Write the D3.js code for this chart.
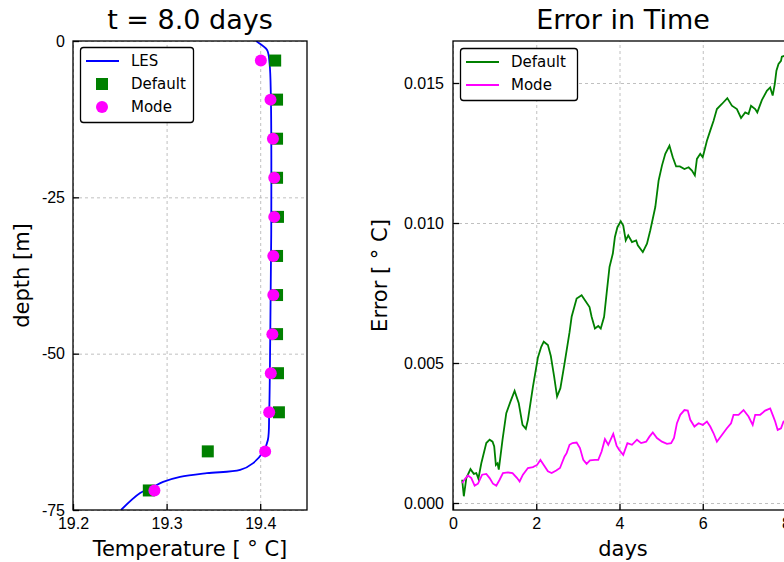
<!DOCTYPE html>
<html>
<head>
<meta charset="utf-8">
<script src="https://cdn.jsdelivr.net/npm/d3@7"></script>
<style>
  body { margin: 0; background: #fff; }
  svg { font-family: "DejaVu Sans", sans-serif; display: block; }
  .grid line { stroke: #b0b0b0; stroke-dasharray: 3,3; stroke-width: 0.8; }
  .grid path { display: none; }
  .ax path, .ax line { stroke: #000; stroke-width: 1.3; }
  .ax text { font-size: 16px; fill: #000; }
</style>
</head>
<body>
<div id="chart"></div>
<script>
// profile at t = 8.0 days
var lesTemp  = [19.3957, 19.3965, 19.4072, 19.4100, 19.4114, 19.4118, 19.4107, 19.4096, 19.4082, 19.4032, 19.3925, 19.3786, 19.3430, 19.3144, 19.2963, 19.2856, 19.2717, 19.2513];
var lesDepth = [0, -0.1, -1.4, -3.6, -8.9, -30.2, -47.8, -59.5, -63.8, -65.7, -67.5, -68.6, -69.1, -69.7, -70.5, -71.3, -72.3, -75];
var levelDepth  = [-3.125, -9.375, -15.625, -21.875, -28.125, -34.375, -40.625, -46.875, -53.125, -59.375, -65.625, -71.875];
var defaultTemp = [19.416, 19.418, 19.418, 19.418, 19.419, 19.418, 19.418, 19.418, 19.419, 19.420, 19.344, 19.281];
var modeTemp    = [19.4007, 19.411, 19.4136, 19.415, 19.415, 19.414, 19.414, 19.413, 19.4113, 19.4096, 19.4053, 19.287];
var tempTicks  = [19.2, 19.3, 19.4];
var depthTicks = [0, -25, -50, -75];

// error in time (values in units of 1e-3 degC)
var defaultDays = [0.22,0.26,0.32,0.42,0.50,0.56,0.61,0.68,0.80,0.88,0.95,0.99,1.03,1.07,1.10,1.19,1.28,1.38,1.48,1.58,1.67,1.75,1.80,1.92,2.04,2.12,2.18,2.28,2.35,2.43,2.50,2.58,2.68,2.80,2.85,2.97,3.09,3.17,3.28,3.33,3.41,3.49,3.55,3.63,3.69,3.76,3.84,3.89,3.95,4.03,4.09,4.15,4.21,4.30,4.40,4.44,4.56,4.66,4.74,4.86,4.94,5.02,5.10,5.20,5.28,5.36,5.45,5.56,5.66,5.74,5.81,5.86,5.94,6.00,6.10,6.18,6.26,6.34,6.46,6.59,6.70,6.82,6.92,7.02,7.10,7.16,7.26,7.31,7.42,7.54,7.62,7.68,7.73,7.77,7.82,7.88,7.90,7.96,8.05];
var defaultErr  = [0.83,0.24,0.89,1.21,1.04,1.07,0.87,1.42,2.14,2.26,2.19,2.02,1.36,1.42,1.19,2.26,3.21,3.62,4.00,3.56,2.79,2.65,2.97,4.15,5.20,5.58,5.76,5.64,5.25,4.51,3.80,4.10,4.99,6.10,6.65,7.30,7.42,7.24,7.00,6.65,6.23,6.32,6.23,6.65,7.48,8.43,8.91,9.50,9.85,10.06,9.91,9.38,9.56,9.32,9.38,9.20,8.96,9.26,9.74,10.57,11.52,12.05,12.47,12.76,12.35,12.02,12.02,11.93,11.99,11.87,11.70,12.29,12.47,12.35,12.94,13.30,13.65,14.07,14.25,14.46,14.19,14.07,13.75,13.95,13.89,14.19,14.07,13.95,14.39,14.72,14.84,14.55,14.96,15.44,15.68,15.79,15.94,15.97,16.10];
var modeDays = [0.22,0.28,0.36,0.44,0.52,0.60,0.70,0.80,0.88,0.96,1.04,1.12,1.20,1.32,1.43,1.54,1.60,1.68,1.80,1.92,2.02,2.10,2.18,2.28,2.37,2.48,2.57,2.68,2.73,2.80,2.87,2.97,3.05,3.13,3.21,3.29,3.41,3.49,3.57,3.65,3.73,3.85,3.93,3.99,4.09,4.19,4.30,4.42,4.52,4.64,4.72,4.80,4.90,5.02,5.14,5.24,5.31,5.38,5.46,5.56,5.64,5.70,5.80,5.90,6.00,6.10,6.18,6.26,6.34,6.46,6.58,6.68,6.74,6.86,6.98,7.10,7.20,7.26,7.38,7.50,7.62,7.68,7.74,7.80,7.88,7.94,8.05];
var modeErr  = [0.71,0.85,0.98,0.89,0.62,0.69,1.01,1.04,0.89,0.69,0.62,0.83,1.07,1.09,1.07,0.89,0.77,1.01,1.25,1.28,1.36,1.54,1.36,1.13,1.07,1.16,1.25,1.66,1.78,2.08,2.14,2.16,1.96,1.54,1.40,1.52,1.54,1.54,1.84,2.28,2.08,2.47,2.05,1.90,1.72,2.14,2.08,2.26,2.14,2.19,2.37,2.52,2.32,2.19,2.11,2.14,2.32,2.85,3.15,3.32,3.30,2.97,2.73,2.85,2.79,2.91,2.73,2.49,2.19,2.43,2.67,2.85,3.15,3.15,3.32,3.09,2.79,3.15,3.15,3.30,3.38,3.15,2.91,2.61,2.67,2.91,3.00];
var dayTicks = [0, 2, 4, 6, 8];
var errTicks = [0, 0.005, 0.010, 0.015];

var svg = d3.select("#chart").append("svg")
    .attr("width", 784).attr("height", 562);

// ---------- left: profile ----------
var L = {left: 73, right: 307, top: 41, bottom: 510};
var xT = d3.scaleLinear().domain([19.2, 19.45]).range([L.left, L.right]);
var yD = d3.scaleLinear().domain([-75, 0]).range([L.bottom, L.top]);

svg.append("g").attr("class", "grid")
    .attr("transform", "translate(0," + L.bottom + ")")
    .call(d3.axisBottom(xT).tickValues(tempTicks).tickSize(-(L.bottom - L.top)).tickFormat(""));
svg.append("g").attr("class", "grid")
    .attr("transform", "translate(" + L.left + ",0)")
    .call(d3.axisLeft(yD).tickValues(depthTicks).tickSize(-(L.right - L.left)).tickFormat(""));

svg.append("defs").append("clipPath").attr("id", "clipL")
    .append("rect").attr("x", L.left).attr("y", L.top)
    .attr("width", L.right - L.left).attr("height", L.bottom - L.top);

var gL = svg.append("g").attr("clip-path", "url(#clipL)");
gL.append("path")
    .datum(d3.range(lesTemp.length))
    .attr("fill", "none").attr("stroke", "#0000ff").attr("stroke-width", 1.8)
    .attr("d", d3.line()
        .x(function(i) { return xT(lesTemp[i]); })
        .y(function(i) { return yD(lesDepth[i]); })
        .curve(d3.curveCatmullRom));

svg.selectAll("rect.def")
    .data(defaultTemp).enter().append("rect").attr("class", "def")
    .attr("x", function(d) { return xT(d) - 6; })
    .attr("y", function(d, i) { return yD(levelDepth[i]) - 6; })
    .attr("width", 12).attr("height", 12)
    .attr("fill", "#008000");

svg.selectAll("circle.mode")
    .data(modeTemp).enter().append("circle").attr("class", "mode")
    .attr("cx", function(d) { return xT(d); })
    .attr("cy", function(d, i) { return yD(levelDepth[i]); })
    .attr("r", 6)
    .attr("fill", "#ff00ff");

var axL = svg.append("g").attr("class", "ax")
    .attr("transform", "translate(0," + L.bottom + ")")
    .call(d3.axisBottom(xT).tickValues(tempTicks).tickSize(-6).tickPadding(8).tickFormat(d3.format(".1f")));
axL.select(".domain").remove();
var ayL = svg.append("g").attr("class", "ax")
    .attr("transform", "translate(" + L.left + ",0)")
    .call(d3.axisLeft(yD).tickValues(depthTicks).tickSize(-6).tickPadding(8).tickFormat(function(d) { return String(d); }));
ayL.select(".domain").remove();

svg.append("rect")
    .attr("x", L.left).attr("y", L.top)
    .attr("width", L.right - L.left).attr("height", L.bottom - L.top)
    .attr("fill", "none").attr("stroke", "#000").attr("stroke-width", 1.3);

svg.append("text").attr("x", 190).attr("y", 29)
    .attr("text-anchor", "middle").attr("font-size", "27px").text("t = 8.0 days");
svg.append("text").attr("x", 190).attr("y", 556)
    .attr("text-anchor", "middle").attr("font-size", "21px").text("Temperature [ \u00b0 C]");
svg.append("text")
    .attr("transform", "translate(29," + ((L.top + L.bottom) / 2) + ") rotate(-90)")
    .attr("text-anchor", "middle").attr("font-size", "21px").text("depth [m]");

// legend left
var lg = svg.append("g");
lg.append("rect").attr("x", 80.5).attr("y", 47.5).attr("width", 113).attr("height", 75)
    .attr("rx", 3).attr("fill", "#fff").attr("stroke", "#000").attr("stroke-width", 1.3);
lg.append("line").attr("x1", 86).attr("x2", 119).attr("y1", 61).attr("y2", 61)
    .attr("stroke", "#0000ff").attr("stroke-width", 1.8);
lg.append("rect").attr("x", 96).attr("y", 78).attr("width", 12).attr("height", 12).attr("fill", "#008000");
lg.append("circle").attr("cx", 102).attr("cy", 107).attr("r", 6).attr("fill", "#ff00ff");
["LES", "Default", "Mode"].forEach(function(t, i) {
    lg.append("text").attr("x", 131).attr("y", 66 + i * 23).attr("font-size", "15px").text(t);
});

// ---------- right: error in time ----------
var R = {left: 453, right: 786, top: 41, bottom: 510};
var xDay = d3.scaleLinear().domain([0, 8]).range([R.left, R.right]);
var yErr = d3.scaleLinear().domain([-0.00025, 0.0165]).range([R.bottom, R.top]);

svg.append("g").attr("class", "grid")
    .attr("transform", "translate(0," + R.bottom + ")")
    .call(d3.axisBottom(xDay).tickValues(dayTicks).tickSize(-(R.bottom - R.top)).tickFormat(""));
svg.append("g").attr("class", "grid")
    .attr("transform", "translate(" + R.left + ",0)")
    .call(d3.axisLeft(yErr).tickValues(errTicks).tickSize(-(R.right - R.left)).tickFormat(""));

svg.select("defs").append("clipPath").attr("id", "clipR")
    .append("rect").attr("x", R.left).attr("y", R.top)
    .attr("width", R.right - R.left).attr("height", R.bottom - R.top);

var gR = svg.append("g").attr("clip-path", "url(#clipR)");
var errLine = function(days, vals) {
    return d3.line()
        .x(function(i) { return xDay(days[i]); })
        .y(function(i) { return yErr(vals[i] / 1000); })(d3.range(days.length));
};
gR.append("path").attr("d", errLine(defaultDays, defaultErr))
    .attr("fill", "none").attr("stroke", "#008000").attr("stroke-width", 1.8);
gR.append("path").attr("d", errLine(modeDays, modeErr))
    .attr("fill", "none").attr("stroke", "#ff00ff").attr("stroke-width", 1.8);

var axR = svg.append("g").attr("class", "ax")
    .attr("transform", "translate(0," + R.bottom + ")")
    .call(d3.axisBottom(xDay).tickValues(dayTicks).tickSize(-6).tickPadding(8));
axR.select(".domain").remove();
var ayR = svg.append("g").attr("class", "ax")
    .attr("transform", "translate(" + R.left + ",0)")
    .call(d3.axisLeft(yErr).tickValues(errTicks).tickSize(-6).tickPadding(9).tickFormat(d3.format(".3f")));
ayR.select(".domain").remove();

svg.append("rect")
    .attr("x", R.left).attr("y", R.top)
    .attr("width", R.right - R.left).attr("height", R.bottom - R.top)
    .attr("fill", "none").attr("stroke", "#000").attr("stroke-width", 1.3);

svg.append("text").attr("x", 623).attr("y", 29)
    .attr("text-anchor", "middle").attr("font-size", "27px").text("Error in Time");
svg.append("text").attr("x", 623).attr("y", 556)
    .attr("text-anchor", "middle").attr("font-size", "21px").text("days");
svg.append("text")
    .attr("transform", "translate(387," + ((R.top + R.bottom) / 2) + ") rotate(-90)")
    .attr("text-anchor", "middle").attr("font-size", "21px").text("Error [ \u00b0 C]");

// legend right
var lg2 = svg.append("g");
lg2.append("rect").attr("x", 460.5).attr("y", 48.5).attr("width", 117).attr("height", 52)
    .attr("rx", 3).attr("fill", "#fff").attr("stroke", "#000").attr("stroke-width", 1.3);
[["Default", "#008000"], ["Mode", "#ff00ff"]].forEach(function(e, i) {
    lg2.append("line").attr("x1", 466).attr("x2", 499).attr("y1", 62 + i * 23).attr("y2", 62 + i * 23)
        .attr("stroke", e[1]).attr("stroke-width", 1.8);
    lg2.append("text").attr("x", 511).attr("y", 67 + i * 23).attr("font-size", "15px").text(e[0]);
});
</script>
</body>
</html>
